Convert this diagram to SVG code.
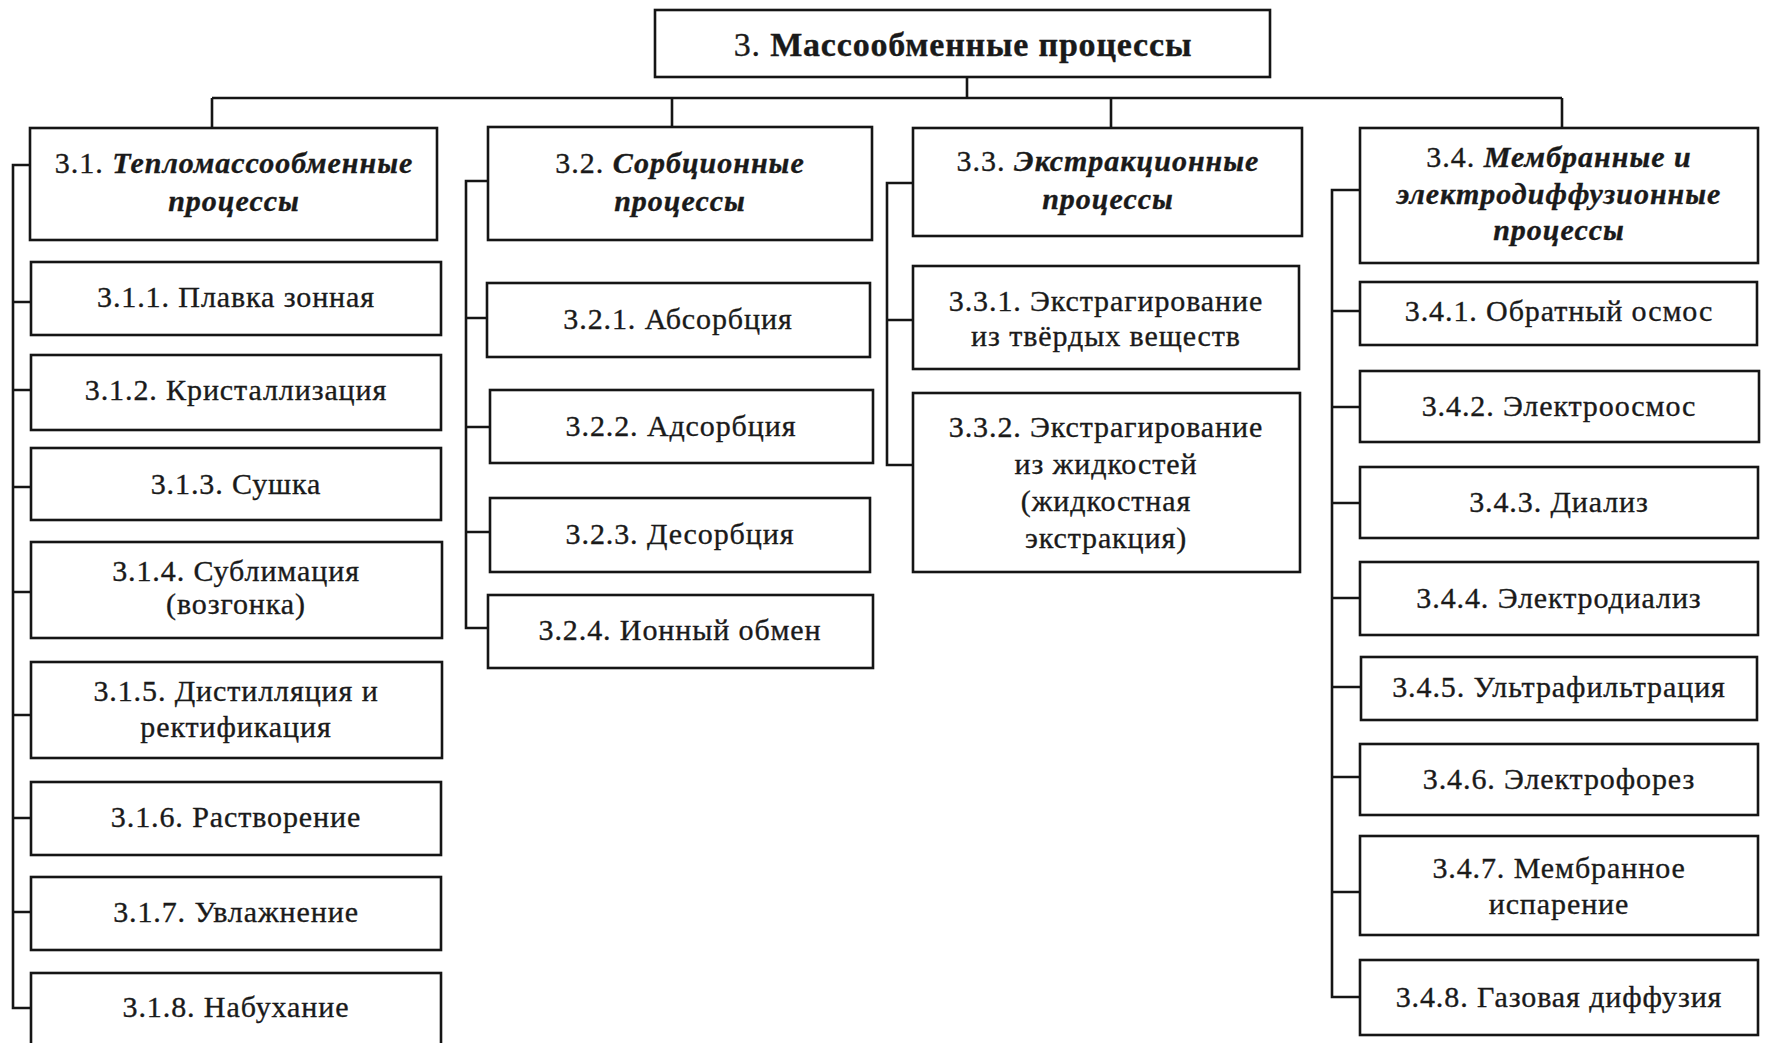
<svg xmlns="http://www.w3.org/2000/svg" width="1767" height="1043" viewBox="0 0 1767 1043">
<style>
.box{fill:#fff;stroke:#151515;stroke-width:2.6}
.ln{fill:none;stroke:#151515;stroke-width:2.6}
text{font-family:"Liberation Serif","Times New Roman",serif;fill:#1a1a1a;text-anchor:middle;stroke:#1a1a1a;stroke-width:0.35px}
.t{font-size:30px;letter-spacing:0.9px}
.h{font-size:30px;letter-spacing:1px}
.bi{font-weight:bold;font-style:italic}
.r{font-size:34px;letter-spacing:0.8px}
.b{font-weight:bold}
</style>
<rect width="1767" height="1043" fill="#fff"/>
<g id="connectors">
<path class="ln" d="M967 77V98M212 98H1562M212 98V128M672 98V127M1111 98V128M1562 98V128"/>
<path class="ln" d="M30 165H13V1008H31M13 302H31M13 390H31M13 487H31M13 592H31M13 715H31M13 818H31M13 912H31"/>
<path class="ln" d="M488 181H466V628H488M466 318H488M466 427H490M466 532H490"/>
<path class="ln" d="M913 183H887V465H913M887 320H913"/>
<path class="ln" d="M1360 190H1332V997H1360M1332 311H1360M1332 407H1360M1332 503H1360M1332 598H1360M1332 687H1360M1332 777H1360M1332 892H1360"/>
</g>
<g id="n3"><rect class="box" x="655" y="10" width="615" height="67"/><text class="r" x="963" y="56">3. <tspan class="b">Массообменные процессы</tspan></text></g>
<g id="n3_1"><rect class="box" x="30" y="128" width="407" height="112"/><text class="h" x="234" y="173">3.1. <tspan class="bi">Тепломассообменные</tspan></text><text class="h bi" x="234" y="211">процессы</text></g>
<g id="n3_2"><rect class="box" x="488" y="127" width="384" height="113"/><text class="h" x="680" y="173">3.2. <tspan class="bi">Сорбционные</tspan></text><text class="h bi" x="680" y="211">процессы</text></g>
<g id="n3_3"><rect class="box" x="913" y="128" width="389" height="108"/><text class="h" x="1108" y="171">3.3. <tspan class="bi">Экстракционные</tspan></text><text class="h bi" x="1108" y="209">процессы</text></g>
<g id="n3_4"><rect class="box" x="1360" y="128" width="398" height="135"/><text class="h" x="1559" y="167">3.4. <tspan class="bi">Мембранные и</tspan></text><text class="h bi" x="1559" y="204">электродиффузионные</text><text class="h bi" x="1559" y="240">процессы</text></g>
<g id="n3_1_1"><rect class="box" x="31" y="262" width="410" height="73"/><text class="t" x="236" y="307">3.1.1. Плавка зонная</text></g>
<g id="n3_1_2"><rect class="box" x="31" y="355" width="410" height="75"/><text class="t" x="236" y="400">3.1.2. Кристаллизация</text></g>
<g id="n3_1_3"><rect class="box" x="31" y="448" width="410" height="72"/><text class="t" x="236" y="494">3.1.3. Сушка</text></g>
<g id="n3_1_4"><rect class="box" x="31" y="542" width="411" height="96"/><text class="t" x="236" y="581">3.1.4. Сублимация</text><text class="t" x="236" y="614">(возгонка)</text></g>
<g id="n3_1_5"><rect class="box" x="31" y="662" width="411" height="96"/><text class="t" x="236" y="701">3.1.5. Дистилляция и</text><text class="t" x="236" y="737">ректификация</text></g>
<g id="n3_1_6"><rect class="box" x="31" y="782" width="410" height="73"/><text class="t" x="236" y="827">3.1.6. Растворение</text></g>
<g id="n3_1_7"><rect class="box" x="31" y="877" width="410" height="73"/><text class="t" x="236" y="922">3.1.7. Увлажнение</text></g>
<g id="n3_1_8"><rect class="box" x="31" y="973" width="410" height="80"/><text class="t" x="236" y="1017">3.1.8. Набухание</text></g>
<g id="n3_2_1"><rect class="box" x="487" y="283" width="383" height="74"/><text class="t" x="678" y="329">3.2.1. Абсорбция</text></g>
<g id="n3_2_2"><rect class="box" x="490" y="390" width="383" height="73"/><text class="t" x="681" y="436">3.2.2. Адсорбция</text></g>
<g id="n3_2_3"><rect class="box" x="490" y="498" width="380" height="74"/><text class="t" x="680" y="544">3.2.3. Десорбция</text></g>
<g id="n3_2_4"><rect class="box" x="488" y="595" width="385" height="73"/><text class="t" x="680" y="640">3.2.4. Ионный обмен</text></g>
<g id="n3_3_1"><rect class="box" x="913" y="266" width="386" height="103"/><text class="t" x="1106" y="311">3.3.1. Экстрагирование</text><text class="t" x="1106" y="346">из твёрдых веществ</text></g>
<g id="n3_3_2"><rect class="box" x="913" y="393" width="387" height="179"/><text class="t" x="1106" y="437">3.3.2. Экстрагирование</text><text class="t" x="1106" y="474">из жидкостей</text><text class="t" x="1106" y="511">(жидкостная</text><text class="t" x="1106" y="548">экстракция)</text></g>
<g id="n3_4_1"><rect class="box" x="1360" y="282" width="397" height="63"/><text class="t" x="1559" y="321">3.4.1. Обратный осмос</text></g>
<g id="n3_4_2"><rect class="box" x="1360" y="371" width="399" height="71"/><text class="t" x="1559" y="416">3.4.2. Электроосмос</text></g>
<g id="n3_4_3"><rect class="box" x="1360" y="467" width="398" height="71"/><text class="t" x="1559" y="512">3.4.3. Диализ</text></g>
<g id="n3_4_4"><rect class="box" x="1360" y="562" width="398" height="73"/><text class="t" x="1559" y="608">3.4.4. Электродиализ</text></g>
<g id="n3_4_5"><rect class="box" x="1361" y="657" width="396" height="63"/><text class="t" x="1559" y="697">3.4.5. Ультрафильтрация</text></g>
<g id="n3_4_6"><rect class="box" x="1360" y="744" width="398" height="71"/><text class="t" x="1559" y="789">3.4.6. Электрофорез</text></g>
<g id="n3_4_7"><rect class="box" x="1360" y="836" width="398" height="99"/><text class="t" x="1559" y="878">3.4.7. Мембранное</text><text class="t" x="1559" y="914">испарение</text></g>
<g id="n3_4_8"><rect class="box" x="1360" y="960" width="398" height="75"/><text class="t" x="1559" y="1007">3.4.8. Газовая диффузия</text></g>
</svg>
